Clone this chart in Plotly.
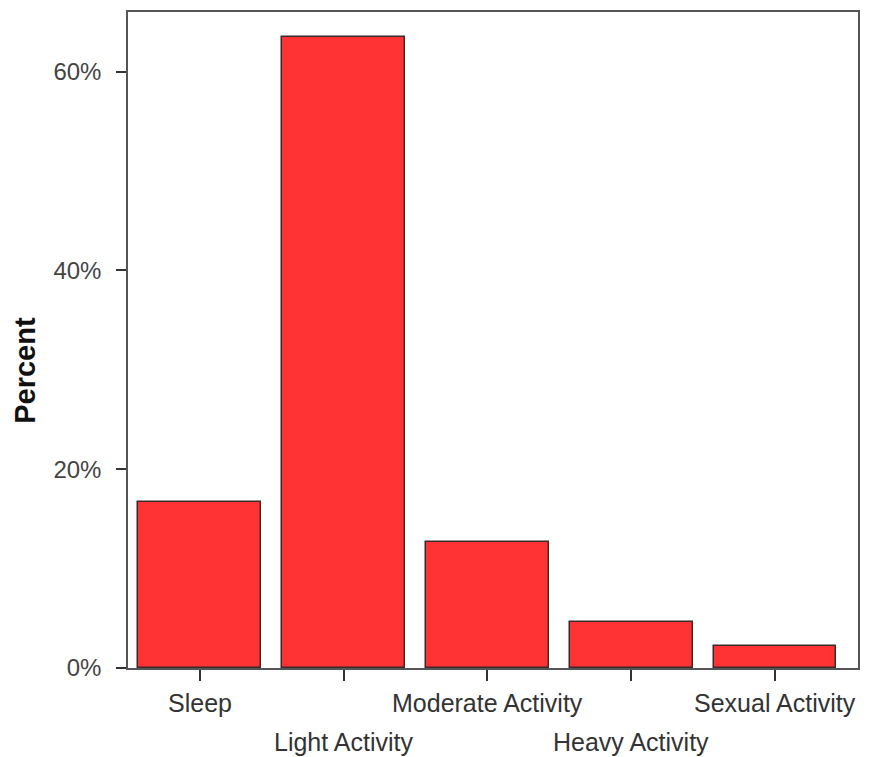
import plotly.graph_objects as go

categories = ["Sleep", "Light Activity", "Moderate Activity", "Heavy Activity", "Sexual Activity"]
percent_values = [16.7, 63.5, 12.7, 4.6, 2.2]
y_tick_values = [0, 20, 40, 60]
y_tick_labels = ["0%", "20%", "40%", "60%"]
y_title = "Percent"

FONT = "Liberation Sans, Arial, sans-serif"

fig = go.Figure()
fig.add_trace(go.Bar(
    x=categories,
    y=percent_values,
    width=0.855,
    marker=dict(color="#ff3333", line=dict(color="#3a2a2a", width=1.5)),
))

annotations = []
for i, cat in enumerate(categories):
    annotations.append(dict(
        x=cat, xref="x", y=0, yref="paper",
        text=cat, showarrow=False,
        yanchor="middle", xanchor="center",
        yshift=-35 if i % 2 == 0 else -74,
        font=dict(family=FONT, size=25, color="#333333"),
    ))
annotations.append(dict(
    x=0, xref="paper", y=0.453, yref="paper",
    text="<b>" + y_title + "</b>", showarrow=False,
    textangle=-90, xanchor="center", yanchor="middle",
    xshift=-103,
    font=dict(family=FONT, size=29, color="#111111"),
))

fig.update_layout(
    width=862, height=749,
    margin=dict(l=120, r=12, t=2, b=89),
    paper_bgcolor="white", plot_bgcolor="white",
    showlegend=False,
    bargap=0,
    font=dict(family=FONT, size=24, color="#333333"),
    annotations=annotations,
    xaxis=dict(
        showticklabels=False,
        ticks="outside", ticklen=11, tickwidth=2, tickcolor="#333333",
        showline=True, linecolor="#555555", linewidth=1.5, mirror=True,
        showgrid=False, zeroline=False,
    ),
    yaxis=dict(
        range=[0, 66],
        tickvals=y_tick_values, ticktext=y_tick_labels,
        ticks="outside", ticklen=10, tickwidth=2, tickcolor="#333333",
        ticklabelstandoff=10,
        showline=True, linecolor="#555555", linewidth=1.5, mirror=True,
        showgrid=False, zeroline=False,
        tickfont=dict(family=FONT, size=24, color="#444444"),
    ),
)

fig.write_html("out.html")
